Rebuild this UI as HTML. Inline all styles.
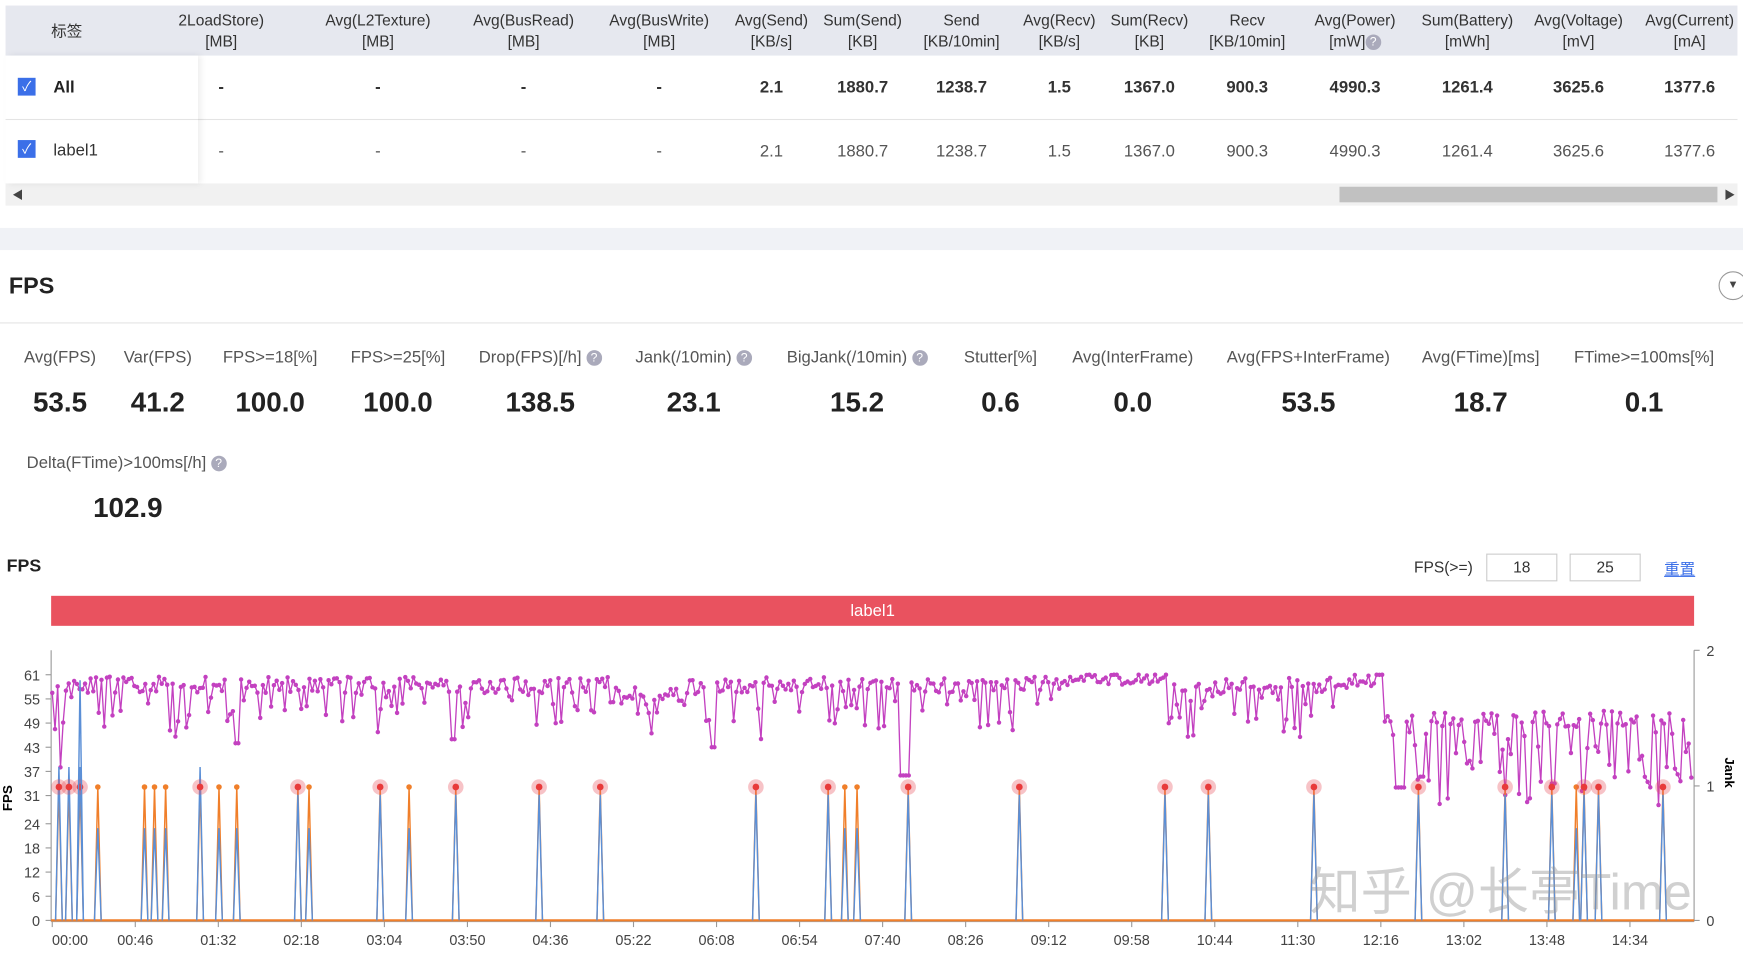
<!DOCTYPE html>
<html><head><meta charset="utf-8"><style>
body{margin:0;width:1743px;height:954px;overflow:hidden;background:#fff;font-family:"Liberation Sans","Noto Sans CJK SC",sans-serif;}
#w{position:absolute;left:0;top:0;width:1568px;height:858px;transform:scale(1.11161);transform-origin:0 0;}
.a{position:absolute;white-space:nowrap;}
.c{transform:translateX(-50%);text-align:center;}
.h{font-size:14px;color:#333;line-height:19px;}
.v{font-size:15px;color:#333;}
.ml{font-size:15px;color:#555;}
.mv{font-size:25px;font-weight:bold;color:#222;}
.q{display:inline-block;width:14px;height:14px;border-radius:50%;background:#aab;color:#fff;font-size:11px;line-height:14px;text-align:center;vertical-align:1px;}
</style></head><body><div id="w">
<div class="a" style="left:5px;top:5px;width:1558px;height:45px;background:#e6e8ef"></div>
<div class="a" style="left:5px;top:107px;width:1558px;height:1px;background:#e4e4e4"></div>
<div class="a" style="left:5px;top:165px;width:1558px;height:20px;background:#f1f1f1"></div>
<div class="a" style="left:1205px;top:168px;width:340px;height:14px;background:#c1c1c1"></div>
<div class="a" style="left:11px;top:167px;font-size:10px;color:#444">◀</div>
<div class="a" style="left:1551px;top:167px;font-size:10px;color:#444">▶</div>
<div class="a" style="left:5px;top:50px;width:173px;height:115px;box-shadow:3px 0 6px rgba(0,0,0,0.08);"></div>
<div class="a" style="left:0;top:205px;width:1568px;height:20px;background:#f0f2f6"></div>
<div class="a h" style="left:46px;top:19px">标签</div>
<div class="a" style="left:16px;top:70px;width:16px;height:16px;background:#3b6fe8;color:#fff;font-size:12px;text-align:center;line-height:16px">✓</div>
<div class="a" style="left:16px;top:126px;width:16px;height:16px;background:#3b6fe8;color:#fff;font-size:12px;text-align:center;line-height:16px">✓</div>
<div class="a" style="left:48px;top:70px;font-size:15px;font-weight:bold;color:#222">All</div>
<div class="a" style="left:48px;top:127px;font-size:15px;color:#333">label1</div>
<div id="tbl"></div>
<div class="a" style="left:8px;top:246px;font-size:21px;font-weight:bold;color:#222">FPS</div>
<div class="a" style="left:1546px;top:244px;width:24px;height:24px;border:1px solid #999;border-radius:50%;font-size:10px;line-height:24px;text-indent:7px;color:#444">▼</div>
<div class="a" style="left:0;top:290px;width:1568px;height:1px;background:#e5e5e5"></div>
<div id="met"></div>
<div class="a ml" style="left:24px;top:408px">Delta(FTime)&gt;100ms[/h] <span class="q">?</span></div>
<div class="a mv c" style="left:115px;top:443px">102.9</div>
<div class="a" style="left:6px;top:501px;font-size:16px;font-weight:bold;color:#222">FPS</div>
<div class="a" style="left:1272px;top:502px;font-size:14px;color:#333">FPS(&gt;=)</div>
<div class="a" style="left:1337px;top:498px;width:62px;height:23px;border:1px solid #ccc;font-size:14px;text-align:center;line-height:23px;color:#333">18</div>
<div class="a" style="left:1412px;top:498px;width:62px;height:23px;border:1px solid #ccc;font-size:14px;text-align:center;line-height:23px;color:#333">25</div>
<div class="a" style="left:1497px;top:502px;font-size:14px;color:#3b6fe8;text-decoration:underline">重置</div>
<div class="a" style="left:46px;top:536px;width:1478px;height:27px;background:#e9525f;color:#fff;font-size:15px;text-align:center;line-height:27px">label1</div>
<svg class="a" style="left:0;top:0" width="1568" height="858" id="sv"></svg>
<div class="a" style="left:1178px;top:766px;font-size:46px;color:rgba(150,150,150,0.45);">知乎 @长亭Time</div>
</div>
<script>
var cols=[[199,"2LoadStore)","[MB]","-"],[340,"Avg(L2Texture)","[MB]","-"],[471,"Avg(BusRead)","[MB]","-"],[593,"Avg(BusWrite)","[MB]","-"],[694,"Avg(Send)","[KB/s]","2.1"],[776,"Sum(Send)","[KB]","1880.7"],[865,"Send","[KB/10min]","1238.7"],[953,"Avg(Recv)","[KB/s]","1.5"],[1034,"Sum(Recv)","[KB]","1367.0"],[1122,"Recv","[KB/10min]","900.3"],[1219,"Avg(Power)","[mW]<span class='q'>?</span>","4990.3"],[1320,"Sum(Battery)","[mWh]","1261.4"],[1420,"Avg(Voltage)","[mV]","3625.6"],[1520,"Avg(Current)","[mA]","1377.6"]];
var h="";cols.forEach(function(c){h+='<div class="a h c" style="left:'+c[0]+'px;top:9px">'+c[1]+'<br>'+c[2]+'</div>';h+='<div class="a v c" style="left:'+c[0]+'px;top:70px;font-weight:bold">'+c[3]+'</div>';h+='<div class="a v c" style="left:'+c[0]+'px;top:128px;color:#555">'+c[3]+'</div>';});
document.getElementById("tbl").innerHTML=h;
var m=[[54,"Avg(FPS)","53.5"],[142,"Var(FPS)","41.2"],[243,"FPS>=18[%]","100.0"],[358,"FPS>=25[%]","100.0"],[486,"Drop(FPS)[/h] <span class='q'>?</span>","138.5"],[624,"Jank(/10min) <span class='q'>?</span>","23.1"],[771,"BigJank(/10min) <span class='q'>?</span>","15.2"],[900,"Stutter[%]","0.6"],[1019,"Avg(InterFrame)","0.0"],[1177,"Avg(FPS+InterFrame)","53.5"],[1332,"Avg(FTime)[ms]","18.7"],[1479,"FTime>=100ms[%]","0.1"]];
h="";m.forEach(function(c){h+='<div class="a ml c" style="left:'+c[0]+'px;top:313px">'+c[1]+'</div><div class="a mv c" style="left:'+c[0]+'px;top:348px">'+c[2]+'</div>';});
document.getElementById("met").innerHTML=h;
var s="",Y=function(v){return 828-v*221/61;};
s+='<line x1="46" y1="585" x2="46" y2="829" stroke="#999"/><line x1="1524" y1="585" x2="1524" y2="829" stroke="#999"/><line x1="46" y1="829" x2="1524" y2="829" stroke="#9ab"/>';
[0,6,12,18,24,31,37,43,49,55,61].forEach(function(v){var y=Y(v);s+='<text x="36" y="'+(y+5)+'" font-size="13" fill="#444" text-anchor="end">'+v+'</text><line x1="41" y1="'+y+'" x2="46" y2="'+y+'" stroke="#999"/>';});
[[2,585],[1,707],[0,828]].forEach(function(a){s+='<text x="1535" y="'+(a[1]+5)+'" font-size="13" fill="#444">'+a[0]+'</text><line x1="1524" y1="'+a[1]+'" x2="1529" y2="'+a[1]+'" stroke="#999"/>';});
s+='<text transform="translate(11,718) rotate(-90)" font-size="12" font-weight="bold" text-anchor="middle">FPS</text><text transform="translate(1552,695) rotate(90)" font-size="12" font-weight="bold" text-anchor="middle">Jank</text>';
var xl=["00:00","00:46","01:32","02:18","03:04","03:50","04:36","05:22","06:08","06:54","07:40","08:26","09:12","09:58","10:44","11:30","12:16","13:02","13:48","14:34"];
xl.forEach(function(t,i){var x=47+i*74.7;var lx=i==0?63:x;s+='<line x1="'+x+'" y1="829" x2="'+x+'" y2="834" stroke="#999"/><text x="'+lx+'" y="850" font-size="13" fill="#444" text-anchor="middle">'+t+'</text>';});
var seed=11;function r(){seed=(seed*16807)%2147483647;return seed/2147483647;}
var pts=[],n=600;
for(var i=0;i<n;i++){var x=47+i*(1477/n);var base=58.5,sp=7,pr=0.3;
if(x>550&&x<620){base=56;}if(x>970&&x<1050){base=60.5;sp=1.5;pr=0.05;}if(x>1200&&x<1245){base=59.5;sp=2;pr=0.05;}
if(x>1245&&x<1525){base=50;sp=12;pr=0.5;}
var v=base+(r()-0.5)*4;if(r()<pr)v-=r()*sp*1.7;if(v>61)v=61;
if(x>53&&x<56)v=38;if(x>210&&x<216)v=44;if(x>405&&x<410)v=45;if(x>640&&x<645)v=43;if(x>810&&x<818)v=36;if(x>1255&&x<1265)v=33;if(x>1395&&x<1400)v=34;
pts.push([x,Y(v)]);}
var d="M"+pts.map(function(p){return p[0].toFixed(1)+","+p[1].toFixed(1);}).join("L");
s+='<path d="'+d+'" fill="none" stroke="#c341c0" stroke-width="1.2"/>';
pts.forEach(function(p){s+='<circle cx="'+p[0].toFixed(1)+'" cy="'+p[1].toFixed(1)+'" r="2" fill="#c341c0"/>';});
s+='<line x1="46" y1="828" x2="1524" y2="828" stroke="#f07f2a" stroke-width="2"/>';
var red=[53,62,72,180,268,342,410,485,540,680,745,817,917,1048,1087,1182,1276,1354,1396,1425,1438,1496],org=[88,130,139,149,197,213,278,368,760,771,1418];
function spike(x,c,top){s+='<path d="M'+(x-3)+',828 L'+x+','+top+' L'+(x+3)+',828" fill="none" stroke="'+c+'" stroke-width="1.3"/>';}
org.forEach(function(x){spike(x,"#f07f2a",708);spike(x,"#5b8fd6",745);s+='<circle cx="'+x+'" cy="708" r="2.5" fill="#f07f2a"/>';});
red.forEach(function(x){spike(x,"#f07f2a",708);spike(x,"#5b8fd6",x<80||x==180?690:715);s+='<circle cx="'+x+'" cy="708" r="7" fill="rgba(233,82,95,0.35)"/><circle cx="'+x+'" cy="708" r="3" fill="#e83a3a"/>';});
spike(72,"#5b8fd6",612);
document.getElementById("sv").innerHTML=s;
</script>
</body></html>
